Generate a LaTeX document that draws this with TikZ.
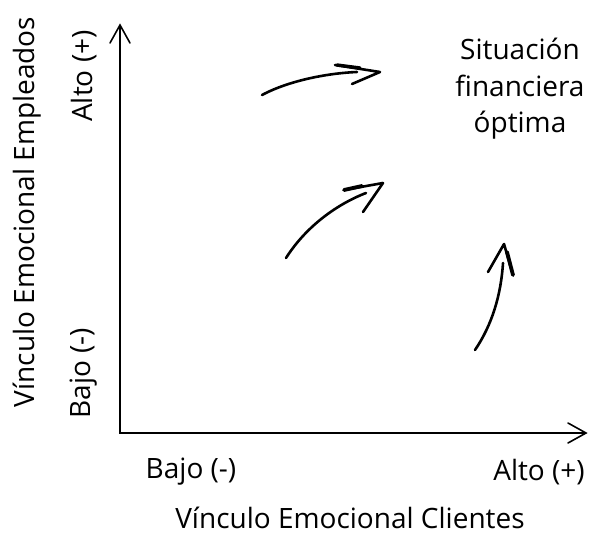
\documentclass[tikz,border=0pt]{standalone}
\usepackage{fontspec}
\setmainfont{Open Sans}
\usetikzlibrary{positioning,calc,arrows}

\begin{document}
\begin{tikzpicture}[x=1pt,y=-1pt,font=\fontsize{28}{36.5}\selectfont,
    sketch/.style={line width=2.6pt,line cap=round,line join=round}]
      \useasboundingbox (0,0) rectangle (595,535);
      \coordinate(O) at (120,433);
      \coordinate(Ytop) at (120,25);
      \coordinate(Xend) at (586,433);
      \draw[line width=1.6pt,line cap=round] ($(Ytop)+(-10,18)$) -- (Ytop) -- ($(Ytop)+(10,18)$);
      \draw[line width=1.6pt,line cap=round] ($(Xend)+(-18,-10)$) -- (Xend) -- ($(Xend)+(-18,10)$);
      \draw[line width=1.6pt] (Ytop) -- (O) -- (Xend);

      \node[rotate=90](Yhi) at (84,76){Alto (+)};
      \node[rotate=90](Ylo) at (84,373){Bajo (-)};
      \node[rotate=90](Ylab) at (27,212){Vínculo Emocional Empleados};
      \node(Xlo) at (191,472){Bajo (-)};
      \node(Xhi) at (539,472){Alto (+)};
      \node[inner sep=1pt](Xlab) at (350,518){Vínculo Emocional Clientes};
      \node[align=center](Opt) at (520,89){Situación\\financiera\\óptima};

      % flechas
      \coordinate(A1) at (262,95);
      \coordinate(A1t) at (380,72);
      \draw[sketch] (A1) .. controls (290,80) and (330,73) .. (357,72);
      \draw[sketch] (335,65) -- (A1t) -- (352,84);
      \draw[line width=3.4pt,line cap=round] (337,65) -- (360,68);

      \coordinate(A2) at (286,258);
      \coordinate(A2t) at (383,183);
      \draw[sketch] (A2) .. controls (305,228) and (335,205) .. (366,193);
      \draw[sketch] (344,190) -- (A2t) -- (363,212);
      \draw[line width=3.8pt,line cap=round] (344,190) -- (362,186);

      \coordinate(A3) at (475,350);
      \coordinate(A3t) at (504,244);
      \draw[sketch] (A3) .. controls (492,325) and (501,295) .. (503,263);
      \draw[sketch] (488,272) -- (A3t) -- (513,275);
      \draw[line width=3.8pt,line cap=round] (507,252) -- (513,275);
\end{tikzpicture}
\end{document}
